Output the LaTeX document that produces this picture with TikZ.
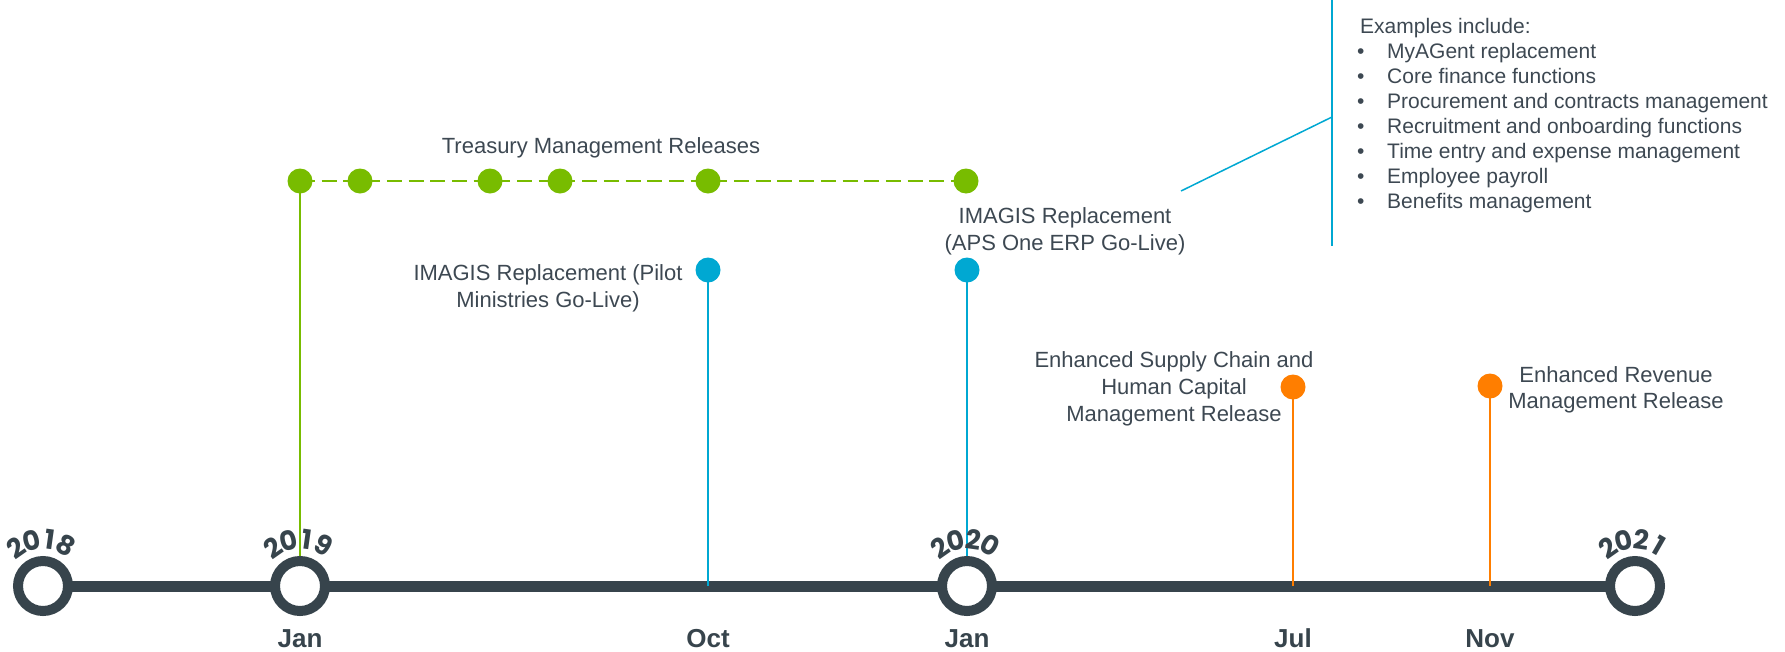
\documentclass[tikz,border=0pt]{standalone}
\usepackage{fontspec}
\setmainfont{Liberation Sans}
\newfontfamily\yearfont{Poppins}
\usetikzlibrary{backgrounds}
\definecolor{txtgray}{HTML}{3D4852}
\definecolor{axisgray}{HTML}{37444C}
\definecolor{tgreen}{HTML}{78BC00}
\definecolor{tblue}{HTML}{00A8D2}
\definecolor{torange}{HTML}{FF7E00}
\begin{document}
\begin{tikzpicture}[x=1pt,y=-1pt,
  lbl/.style={font=\fontsize{22}{27}\selectfont, text=txtgray, anchor=base, inner sep=0pt},
  rlbl/.style={font=\fontsize{21}{25}\selectfont, text=txtgray, anchor=base west, inner sep=0pt},
  month/.style={font=\bfseries\fontsize{26}{30}\selectfont, text=axisgray, anchor=base, inner sep=0pt},
  yr/.style={font=\yearfont\bfseries\fontsize{27}{28}\selectfont, text=axisgray, inner sep=0pt},
  ring/.style={circle, draw=axisgray, line width=10pt, fill=white, minimum size=50pt, inner sep=0pt},
  dot/.style={circle, minimum size=25pt, inner sep=0pt},
  gdot/.style={dot, fill=tgreen},
  bdot/.style={dot, fill=tblue},
  odot/.style={dot, fill=torange},
  conn/.style={line width=2pt},
]
\useasboundingbox (0,0) rectangle (1785,651);

% timeline circles
\node[ring] (c2018) at (43,586) {};
\node[ring] (c2019) at (300,586) {};
\node[ring] (c2020) at (967,586) {};
\node[ring] (c2021) at (1635,586) {};

% year labels on arcs
\foreach \nm/\cx/\da/\db/\dc/\dd in {y18/43/2/0/1/8, y19/300/2/0/1/9, y20/967/2/0/2/0, y21/1635/2/0/2/1}{
  \foreach \d/\a [count=\i] in {\da/125, \db/104, \dc/82, \dd/60}{
    \node[yr, rotate=\a-90] (\nm-\i) at ({\cx+47*cos(\a)},{586-47*sin(\a)}) {\d};
  }
}

% month labels
\node[month] (m1) at (300,647) {Jan};
\node[month] (m2) at (708,647) {Oct};
\node[month] (m3) at (967,647) {Jan};
\node[month] (m4) at (1293,647) {Jul};
\node[month] (m5) at (1490,647) {Nov};

% green treasury dots
\node[gdot] (g1) at (300,181) {};
\node[gdot] (g2) at (360,181) {};
\node[gdot] (g3) at (490,181) {};
\node[gdot] (g4) at (560,181) {};
\node[gdot] (g5) at (708,181) {};
\node[gdot] (g6) at (966,181) {};
\node[lbl] (treasury) at (601,153) {Treasury Management Releases};

% blue dots
\node[bdot] (b1) at (708,270) {};
\node[bdot] (b2) at (967,270) {};
\node[lbl] (pilot1) at (548,280) {IMAGIS Replacement (Pilot};
\node[lbl] (pilot2) at (548,307) {Ministries Go-Live)};
\node[lbl] (aps1) at (1065,223) {IMAGIS Replacement};
\node[lbl] (aps2) at (1065,250) {(APS One ERP Go-Live)};

% orange dots
\node[odot] (o1) at (1293,387) {};
\node[odot] (o2) at (1490,386) {};
\node[lbl] (sc1) at (1174,367) {Enhanced Supply Chain and};
\node[lbl] (sc2) at (1174,394) {Human Capital};
\node[lbl] (sc3) at (1174,421) {Management Release};
\node[lbl] (rev1) at (1616,382) {Enhanced Revenue};
\node[lbl] (rev2) at (1616,408) {Management Release};

% examples list
\node[rlbl] (ex0) at (1360,33) {Examples include:};
\foreach \t [count=\i] in {MyAGent replacement, Core finance functions, Procurement and contracts management, Recruitment and onboarding functions, Time entry and expense management, Employee payroll, Benefits management}{
  \node[rlbl] (ex\i) at (1387,{33+25*\i}) {\t};
  \node[rlbl] (bu\i) at (1357,{33+25*\i}) {\textbullet};
}

% connector points
\coordinate (t18) at (43,586);
\coordinate (t21) at (1635,586);
\coordinate (tOct) at (708,586);
\coordinate (tJul) at (1293,586);
\coordinate (tNov) at (1490,586);
\coordinate (brTop) at (1332,0);
\coordinate (brBot) at (1332,246);
\coordinate (brMid) at (1332,117);
\coordinate (brEnd) at (1181,191);

\begin{scope}[on background layer]
  \draw[axisgray, line width=11pt] (t18) -- (t21);
  \draw[tgreen, line width=2.5pt, dash pattern=on 15pt off 6.7pt] (g1.center) -- (g6.center);
  \draw[tgreen, conn] (g1.center) -- (c2019.north);
  \draw[tblue, conn] (b1.center) -- (tOct);
  \draw[tblue, conn] (b2.center) -- (c2020.north);
  \draw[torange, conn] (o1.center) -- (tJul);
  \draw[torange, conn] (o2.center) -- (tNov);
  \draw[tblue, line width=1.5pt] (brTop) -- (brBot);
  \draw[tblue, line width=1.5pt] (brEnd) -- (brMid);
\end{scope}
\end{tikzpicture}
\end{document}
